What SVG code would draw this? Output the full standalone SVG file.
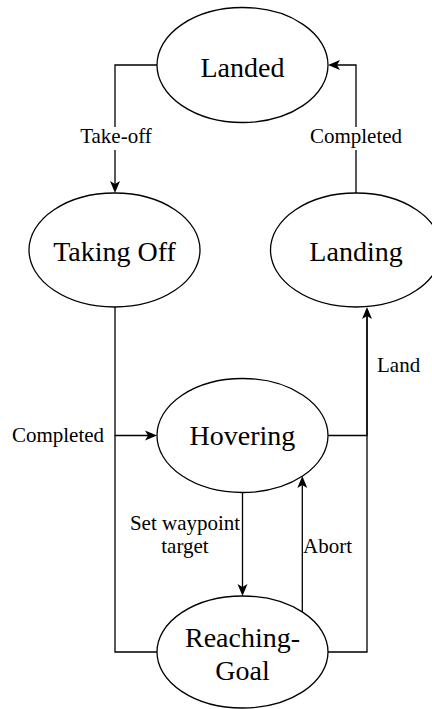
<svg xmlns="http://www.w3.org/2000/svg" width="432" height="709" viewBox="0 0 432 709">
  <style>
    .state ellipse { fill: #ffffff; stroke: #000000; stroke-width: 1.3; }
    .state text { font-family: "Liberation Serif", "Times New Roman", serif; font-size: 28px; fill: #000000; text-anchor: middle; }
    .edge { fill: none; stroke: #000000; stroke-width: 1.3; }
    .label { font-family: "Liberation Serif", "Times New Roman", serif; font-size: 21px; fill: #000000; text-anchor: middle; }
    .label-bg { fill: #ffffff; }
  </style>
  <defs>
    <marker id="arrow" markerUnits="userSpaceOnUse" markerWidth="14" markerHeight="12" viewBox="-13 -6 14 12" refX="-9" refY="0" orient="auto">
      <path d="M0,0 L-12,-5 L-9,0 L-12,5 Z" fill="#000000"/>
    </marker>
  </defs>

  <!-- transitions -->
  <g id="connectors">
    <!-- Landed -> Taking Off -->
    <path class="edge" d="M157,65 H115 V184" marker-end="url(#arrow)"/>
    <!-- Landing -> Landed -->
    <path class="edge" d="M356,193 V65 H337" marker-end="url(#arrow)"/>
    <!-- Taking Off -> Hovering -->
    <path class="edge" d="M115,307 V435.5 H148" marker-end="url(#arrow)"/>
    <!-- Reaching-Goal -> Hovering (merges into the left trunk) -->
    <path class="edge" d="M157,652 H115 V435.5"/>
    <!-- Hovering -> Landing -->
    <path class="edge" d="M328,435.5 H367 V316" marker-end="url(#arrow)"/>
    <!-- Reaching-Goal -> Landing -->
    <path class="edge" d="M328,652 H367 V316"/>
    <!-- Hovering -> Reaching-Goal -->
    <path class="edge" d="M242.5,492 V587" marker-end="url(#arrow)"/>
    <!-- Reaching-Goal -> Hovering (abort) -->
    <path class="edge" d="M302.3,612 V485" marker-end="url(#arrow)"/>

    <!-- transition labels -->
    <rect class="label-bg" x="79" y="127" width="74" height="23"/>
    <text class="label" x="116" y="143">Take-off</text>
    <rect class="label-bg" x="309" y="127" width="94" height="23"/>
    <text class="label" x="356" y="143">Completed</text>
    <text class="label" x="58" y="442">Completed</text>
    <text class="label" x="377" y="372" style="text-anchor:start">Land</text>
    <text class="label" x="185" y="530">Set waypoint</text>
    <text class="label" x="185" y="553">target</text>
    <text class="label" x="303" y="553" style="text-anchor:start">Abort</text>
  </g>

  <g id="landed" class="state">
    <ellipse cx="242.5" cy="65" rx="85.5" ry="57.5"/>
    <text x="242.5" y="77">Landed</text>
  </g>

  <g id="taking-off" class="state">
    <ellipse cx="114.5" cy="250" rx="85.5" ry="57"/>
    <text x="114.5" y="261">Taking Off</text>
  </g>

  <g id="landing" class="state">
    <ellipse cx="356" cy="250" rx="85.5" ry="57"/>
    <text x="356" y="261">Landing</text>
  </g>

  <g id="hovering" class="state">
    <ellipse cx="242.5" cy="435.5" rx="85.5" ry="57"/>
    <text x="242.5" y="445">Hovering</text>
  </g>

  <g id="reaching-goal" class="state">
    <ellipse cx="242.5" cy="652" rx="85.5" ry="56"/>
    <text x="242.5" y="647">Reaching-</text>
    <text x="242.5" y="680">Goal</text>
  </g>
</svg>
